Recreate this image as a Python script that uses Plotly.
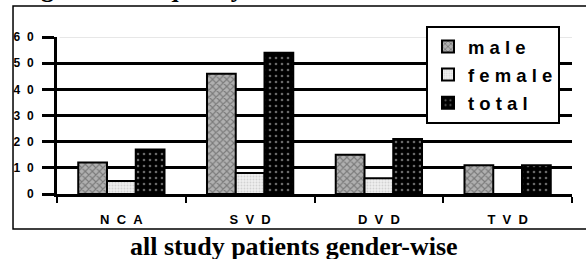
import plotly.graph_objects as go

categories = ["NCA", "SVD", "DVD", "TVD"]
category_labels = ["N\u00a0\u00a0C\u00a0\u00a0A", "S\u00a0\u00a0V\u00a0\u00a0D", "D\u00a0\u00a0V\u00a0\u00a0D", "T\u00a0\u00a0V\u00a0\u00a0D"]
male = [12, 46, 15, 11]
female = [5, 8, 6, 0]
total = [17, 54, 21, 11]
y_ticks = [0, 10, 20, 30, 40, 50, 60]
y_tick_labels = ["0", "1\u00a0\u00a00", "2\u00a0\u00a00", "3\u00a0\u00a00", "4\u00a0\u00a00", "5\u00a0\u00a00", "6\u00a0\u00a00"]
series_names = ["m\u00a0a\u00a0l\u00a0e", "f\u00a0e\u00a0m\u00a0a\u00a0l\u00a0e", "t\u00a0o\u00a0t\u00a0a\u00a0l"]

line = dict(color="black", width=2)
fig = go.Figure()
fig.add_trace(go.Bar(
    x=categories, y=male, name=series_names[0], legendgroup="m",
    marker=dict(color="#909090", line=line,
                pattern=dict(shape="x", bgcolor="#b0b0b0", fgcolor="#444444", size=5, solidity=0.4)),
))
fig.add_trace(go.Bar(
    x=categories, y=female, name=series_names[1], legendgroup="f",
    marker=dict(color="#e4e4e4", line=line,
                pattern=dict(shape=".", bgcolor="#eeeeee", fgcolor="#b5b5b5", size=3, solidity=0.3)),
))
fig.add_trace(go.Bar(
    x=categories, y=total, name=series_names[2], legendgroup="t",
    marker=dict(color="black", line=line,
                pattern=dict(shape=".", bgcolor="black", fgcolor="#d0d0d0", size=6, solidity=0.15)),
))

# plot area: x 57..572, y 37..194 ; paper: y 26..194
fig.update_layout(
    width=586, height=259,
    margin=dict(l=57, r=14, t=26, b=65, autoexpand=False),
    paper_bgcolor="white", plot_bgcolor="white",
    barmode="group", bargap=0.33, bargroupgap=0,
    font=dict(family="Liberation Sans, Arial", color="black"),
    showlegend=True,
    legend=dict(
        x=0.7165, y=1.0, xanchor="left", yanchor="top",
        bgcolor="white", bordercolor="black", borderwidth=2,
        font=dict(size=18.5, family="Liberation Sans, Arial", weight="bold"),
        tracegroupgap=1, traceorder="grouped",
        itemwidth=30,
    ),
    xaxis=dict(
        tickmode="array", tickvals=categories, ticktext=category_labels,
        tickson="boundaries", ticks="outside", ticklen=6, tickwidth=2, tickcolor="black",
        showline=True, linecolor="black", linewidth=3, showgrid=False,
        tickfont=dict(size=13, weight="bold"), ticklabelstandoff=11, automargin=False,
    ),
    yaxis=dict(
        domain=[0, 0.9345],
        range=[0, 60], tickmode="array", tickvals=y_ticks, ticktext=y_tick_labels,
        ticks="outside", ticklen=12, tickwidth=3, tickcolor="black",
        showline=True, linecolor="black", linewidth=3,
        showgrid=True, gridcolor="black", gridwidth=3, zeroline=False,
        tickfont=dict(size=12, weight="bold"), ticklabelstandoff=6, automargin=False,
    ),
    shapes=[
        dict(type="line", xref="paper", yref="y", x0=0.005, x1=1, y0=60, y1=60,
             line=dict(color="white", width=4)),
        dict(type="line", xref="paper", yref="y", x0=0.005, x1=1, y0=60, y1=60,
             line=dict(color="#d0d0d0", width=1)),
        dict(type="rect", xref="paper", yref="paper", x0=-0.0854, x1=1.2, y0=-0.208, y1=1.119,
             line=dict(color="black", width=1.5), layer="below"),
    ],
    annotations=[
        dict(text="all study patients gender-wise", xref="paper", yref="paper",
             x=0.46, y=-0.315, xanchor="center", yanchor="middle", showarrow=False,
             font=dict(family="Liberation Serif, Times New Roman", size=26, weight="bold")),
        dict(text="Figure 3: Frequency of vessel disease in the whole cohort among", xref="paper", yref="paper",
             x=-0.08, y=1.125, xanchor="left", yanchor="bottom", showarrow=False,
             font=dict(family="Liberation Serif, Times New Roman", size=26, weight="bold")),
    ],
)

fig.write_html("out.html", post_script="document.body.style.margin='0px';",
               config={"displayModeBar": False})
